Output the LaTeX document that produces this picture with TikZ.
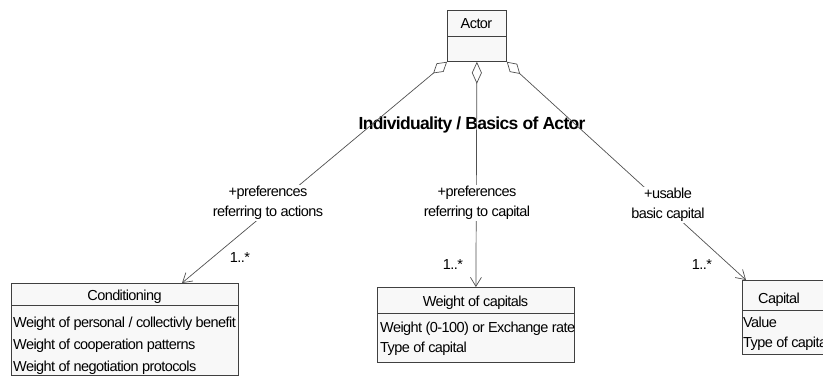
\documentclass[tikz,border=0pt]{standalone}
\usepackage{fontspec}
\setmainfont[LetterSpace=-4]{Liberation Sans}
\usetikzlibrary{arrows.meta}
\definecolor{linec}{HTML}{404040}
\definecolor{boxfill}{HTML}{F8F8F8}
\definecolor{assoc}{HTML}{505050}
\tikzset{
  box/.style={draw=linec, fill=boxfill, line width=0.8pt, inner sep=0pt, anchor=north west},
  txt/.style={inner sep=0pt, font=\fontsize{14.5}{20}\selectfont, text=black},
  lbl/.style={inner sep=1pt, font=\fontsize{14.5}{20}\selectfont, align=center, fill=white},
  mult/.style={inner sep=0pt, font=\fontsize{14.5}{20}\selectfont},
  assocline/.style={draw=assoc, line width=0.7pt},
  sidediamond/.style={{Diamond[open,length=18pt,width=11pt]}-{Straight Barb[length=9pt,width=11pt]}},
  middiamond/.style={{Diamond[open,length=22pt,width=10pt]}-{Straight Barb[length=9pt,width=11pt]}},
}
\begin{document}
\begin{tikzpicture}[x=1pt,y=-1pt]
\useasboundingbox (0,0) rectangle (823,376);
% Actor
\node[box, minimum width=59pt, minimum height=51pt] (actor) at (447,10) {};
\draw[linec, line width=0.8pt] (447,36) -- (506,36);
\node[txt] (actorname) at (476.5,23.5) {Actor};
% Conditioning
\node[box, minimum width=227pt, minimum height=92pt] (cond) at (11,283) {};
\draw[linec, line width=0.8pt] (11,305) -- (238,305);
\node[txt, anchor=base] (condname) at (124.5,300) {Conditioning};
\begin{scope}
\clip (11,305) rectangle (237.6,375);
\node[txt, anchor=base west] (c1) at (13,327) {Weight of personal / collectivly benefit};
\end{scope}
\node[txt, anchor=base west] (c2) at (13,349) {Weight of cooperation patterns};
\node[txt, anchor=base west] (c3) at (13,371) {Weight of negotiation protocols};
% Weight of capitals
\node[box, minimum width=197pt, minimum height=75pt] (wcap) at (377,287) {};
\draw[linec, line width=0.8pt] (377,313) -- (574,313);
\node[txt, anchor=base] (wcapname) at (475.5,306) {Weight of capitals};
\node[txt, anchor=base west] (w1) at (380,332) {Weight (0-100) or Exchange rate};
\node[txt, anchor=base west] (w2) at (380,352) {Type of capital};
% Capital
\node[box, minimum width=120pt, minimum height=74pt] (cap) at (742,280) {};
\draw[linec, line width=0.8pt] (742,310) -- (862,310);
\node[txt, anchor=base] (capname) at (779,303) {Capital};
\node[txt, anchor=base west] (p1) at (743,327) {Value};
\node[txt, anchor=base west] (p2) at (743,347) {Type of capital};
% title
\node[inner sep=0pt, font=\fontsize{17.5}{20}\bfseries] (title) at (472,125) {Individuality / Basics of Actor};
% associations
\coordinate (condtip) at ([xshift=171pt]cond.north west);
\coordinate (captip) at ([xshift=4pt]cap.north west);
\path[assocline, sidediamond] (actor.south west) -- (condtip);
\path[assocline, middiamond] (actor.south) -- (wcap.north);
\path[assocline, sidediamond] (actor.south east) -- (captip);
% labels
\node[lbl] (l1) at (268,203) {+preferences\\referring to actions};
\node[lbl] (l2) at (477,203) {+preferences\\referring to capital};
\node[lbl] (l3) at (668,205) {+usable\\basic capital};
\node[mult] (m1) at (240,258) {1..*};
\node[mult] (m2) at (453,265) {1..*};
\node[mult] (m3) at (702,265) {1..*};
\end{tikzpicture}
\end{document}
